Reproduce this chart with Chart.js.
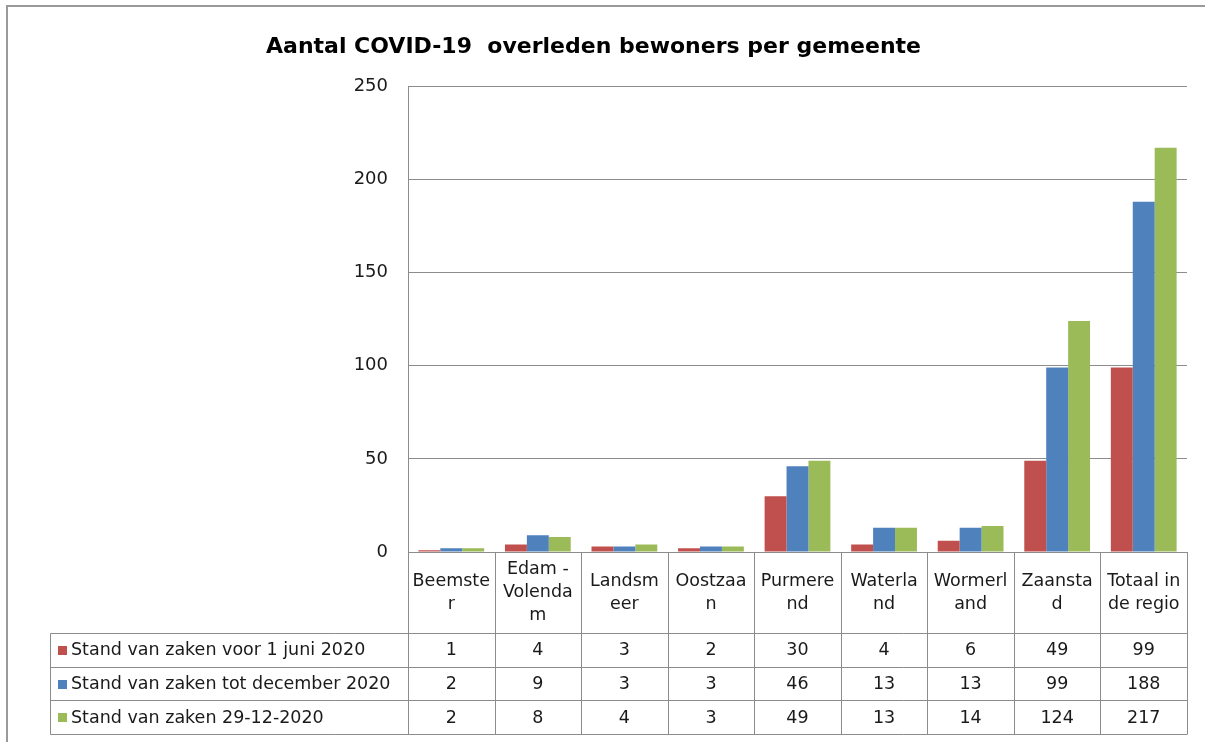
<!DOCTYPE html>
<html>
<head>
<meta charset="utf-8">
<script src="https://cdn.jsdelivr.net/npm/chart.js@4"></script>
<style>
  body { margin: 0; background: #fff; }
  #wrap { position: relative; width: 1205px; height: 742px; }
</style>
</head>
<body>
<div id="wrap"><canvas id="chart" width="1205" height="742"></canvas></div>
<script>
const categories = ['Beemster', 'Edam-Volendam', 'Landsmeer', 'Oostzaan', 'Purmerend', 'Waterland', 'Wormerland', 'Zaanstad', 'Totaal in de regio'];
// category labels wrapped the way the table cells show them
const categoryLines = [
    ['Beemste', 'r'],
    ['Edam -', 'Volenda', 'm'],
    ['Landsm', 'eer'],
    ['Oostzaa', 'n'],
    ['Purmere', 'nd'],
    ['Waterla', 'nd'],
    ['Wormerl', 'and'],
    ['Zaansta', 'd'],
    ['Totaal in', 'de regio']
];
const seriesNames = ['Stand van zaken voor 1 juni 2020', 'Stand van zaken tot december 2020', 'Stand van zaken 29-12-2020'];
const juni2020 = [1, 4, 3, 2, 30, 4, 6, 49, 99];
const totDec2020 = [2, 9, 3, 3, 46, 13, 13, 99, 188];
const dec29_2020 = [2, 8, 4, 3, 49, 13, 14, 124, 217];
const seriesColors = ['#C0504D', '#4F81BD', '#9BBB59'];
const yTicks = [0, 50, 100, 150, 200, 250];

const FONT = 'DejaVu Sans';
const TEXT_SIZE = 17.5;
const LINE = '#8c8c8c';
const ROW_H = 33.7;
const HEADER_H = 81;
const TABLE_LEFT = 50;

// draws the data table under the plot and the frame round the chart
const dataTable = {
    id: 'dataTable',
    beforeDraw(chart) {
        const ctx = chart.ctx;
        ctx.save();
        ctx.fillStyle = '#fff';
        ctx.fillRect(0, 0, chart.width, chart.height);
        ctx.strokeStyle = '#9a9a9a';
        ctx.lineWidth = 2;
        ctx.beginPath();
        ctx.moveTo(7, chart.height);
        ctx.lineTo(7, 6);
        ctx.lineTo(chart.width, 6);
        ctx.stroke();
        ctx.restore();
    },
    afterDraw(chart) {
        const ctx = chart.ctx;
        const x = chart.scales.x;
        const area = chart.chartArea;
        const n = categories.length;
        const w = (x.right - x.left) / n;
        const top = area.bottom;
        const headBottom = top + HEADER_H;
        const bottom = headBottom + ROW_H * seriesNames.length;
        const px = v => Math.round(v) + 0.5;

        ctx.save();
        ctx.strokeStyle = LINE;
        ctx.lineWidth = 1;
        ctx.beginPath();
        // vertical lines at category edges
        for (let i = 0; i <= n; i++) {
            const xx = px(x.left + i * w);
            ctx.moveTo(xx, top);
            ctx.lineTo(xx, bottom);
        }
        // left column of the legend
        ctx.moveTo(px(TABLE_LEFT), px(headBottom));
        ctx.lineTo(px(TABLE_LEFT), px(bottom));
        for (let r = 0; r <= seriesNames.length; r++) {
            const yy = px(headBottom + r * ROW_H);
            ctx.moveTo(px(TABLE_LEFT), yy);
            ctx.lineTo(px(x.right), yy);
        }
        ctx.stroke();

        ctx.fillStyle = '#1a1a1a';
        ctx.font = TEXT_SIZE + 'px "' + FONT + '"';
        ctx.textAlign = 'center';
        ctx.textBaseline = 'middle';
        const lh = 23;
        categoryLines.forEach((lines, i) => {
            const cx = x.getPixelForValue(i);
            const y0 = top + HEADER_H / 2 - (lines.length - 1) * lh / 2;
            lines.forEach((t, k) => ctx.fillText(t, cx, y0 + k * lh));
        });

        chart.data.datasets.forEach((ds, r) => {
            const cy = headBottom + r * ROW_H + ROW_H / 2 + 1;
            ds.data.forEach((v, i) => {
                ctx.fillStyle = '#1a1a1a';
                ctx.textAlign = 'center';
                ctx.fillText(String(v), x.getPixelForValue(i), cy);
            });
            ctx.fillStyle = ds.backgroundColor;
            ctx.fillRect(TABLE_LEFT + 8, Math.round(cy - 5), 9, 9);
            ctx.fillStyle = '#1a1a1a';
            ctx.textAlign = 'left';
            ctx.fillText(ds.label, TABLE_LEFT + 21, cy);
        });
        ctx.restore();
    }
};

new Chart(document.getElementById('chart'), {
    type: 'bar',
    data: {
        labels: categories,
        datasets: [
            { label: seriesNames[0], data: juni2020, backgroundColor: seriesColors[0] },
            { label: seriesNames[1], data: totDec2020, backgroundColor: seriesColors[1] },
            { label: seriesNames[2], data: dec29_2020, backgroundColor: seriesColors[2] }
        ]
    },
    options: {
        responsive: false,
        animation: false,
        events: [],
        layout: { padding: { left: 0, right: 18, top: 0, bottom: 190 } },
        datasets: {
            bar: { categoryPercentage: 0.76, barPercentage: 1.0, borderWidth: 0 }
        },
        plugins: {
            legend: { display: false },
            tooltip: { enabled: false },
            title: {
                display: true,
                text: 'Aantal COVID-19  overleden bewoners per gemeente',
                color: '#000',
                font: { family: FONT, size: 22, weight: 'bold' },
                padding: { top: 34, bottom: 26 }
            }
        },
        scales: {
            x: { display: false },
            y: {
                min: 0,
                max: 250,
                afterBuildTicks: scale => { scale.ticks = yTicks.map(v => ({ value: v })); },
                afterFit: scale => { scale.width = 408; },
                ticks: {
                    color: '#1a1a1a',
                    font: { family: FONT, size: 18 },
                    padding: 20
                },
                grid: { color: LINE, lineWidth: 1, drawTicks: false },
                border: { color: LINE, width: 1 }
            }
        }
    },
    plugins: [dataTable]
});
</script>
</body>
</html>
